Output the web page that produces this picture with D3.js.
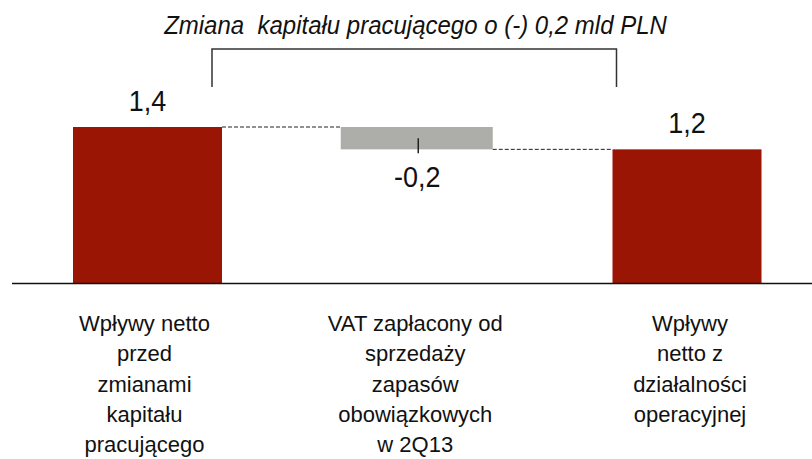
<!DOCTYPE html>
<html>
<head>
<meta charset="utf-8">
<script src="https://cdn.jsdelivr.net/npm/d3@7/dist/d3.min.js"></script>
<style>
  html, body { margin: 0; padding: 0; background: #fff; }
  svg { display: block; }
  text { font-family: "Liberation Sans", Arial, sans-serif; fill: #111; }
</style>
</head>
<body>
<svg id="chart" width="812" height="459"></svg>
<script>
// Waterfall: net inflows before working-capital change -> VAT effect -> operating net inflows
const categories = ["start", "vat", "end"];
const categoryLabels = [
  ["Wpływy netto", "przed", "zmianami", "kapitału", "pracującego"],
  ["VAT zapłacony od", "sprzedaży", "zapasów", "obowiązkowych", "w 2Q13"],
  ["Wpływy", "netto z", "działalności", "operacyjnej"]
];
const barStart = [0, 1.4, 0];      // lower/start level of each bar
const barEnd = [1.4, 1.2, 1.2];    // upper/end level of each bar
const valueLabels = ["1,4", "-0,2", "1,2"];
const barKinds = ["total", "delta", "total"];
const titleText = "Zmiana  kapitału pracującego o (-) 0,2 mld PLN";

const svg = d3.select("#chart");
const colors = { total: "#9b1505", delta: "#adada9" };
const labelNudge = [-3, -2, 3];    // small horizontal offsets of the category captions

const x = d3.scalePoint().domain(categories).range([147.5, 687]);
const barW = 149;
const y = d3.scaleLinear().domain([0, 1.4]).range([283.5, 127]);

// bars
const bars = categories.map((c, i) => ({
  c, i,
  lo: Math.min(barStart[i], barEnd[i]),
  hi: Math.max(barStart[i], barEnd[i]),
  kind: barKinds[i]
}));

svg.append("g").selectAll("rect").data(bars).join("rect")
  .attr("x", d => x(d.c) - barW / 2 + (d.kind === "delta" ? -2 : 0))
  .attr("width", d => barW + (d.kind === "delta" ? 3 : 0))
  .attr("y", d => y(d.hi))
  .attr("height", d => y(d.lo) - y(d.hi))
  .attr("fill", d => colors[d.kind]);

// dashed connectors between consecutive bars at the running level
const connectors = d3.range(categories.length - 1).map(i => ({
  x1: x(categories[i]) + barW / 2 + (barKinds[i] === "delta" ? 1 : 0),
  x2: x(categories[i + 1]) - barW / 2 + (barKinds[i + 1] === "delta" ? -2 : 0),
  v: barEnd[i]
}));
svg.append("g").selectAll("line").data(connectors).join("line")
  .attr("x1", d => d.x1).attr("x2", d => d.x2)
  .attr("y1", d => y(d.v)).attr("y2", d => y(d.v))
  .attr("stroke", "#222").attr("stroke-width", 1)
  .attr("stroke-dasharray", "4,2");

// small marker at the centre of the change bar
bars.filter(d => d.kind === "delta").forEach(d => {
  const mid = (d.lo + d.hi) / 2;
  svg.append("line")
    .attr("x1", x(d.c) + 1).attr("x2", x(d.c) + 1)
    .attr("y1", y(mid)).attr("y2", y(d.lo) + 4)
    .attr("stroke", "#222").attr("stroke-width", 1.5);
});

// baseline
svg.append("line")
  .attr("x1", 12).attr("x2", 812)
  .attr("y1", y(0)).attr("y2", y(0))
  .attr("stroke", "#111").attr("stroke-width", 1.6);

// value labels (slightly tall lettering)
svg.append("g").selectAll("text").data(bars).join("text")
  .attr("transform", d => `translate(${x(d.c)},${d.kind === "delta" ? y(d.lo) + 38 : y(d.hi) - 16}) scale(1,1.12)`)
  .attr("text-anchor", "middle")
  .style("font-size", "27px")
  .text(d => valueLabels[d.i]);

// category labels
const catG = svg.append("g").selectAll("text").data(categories).join("text")
  .attr("x", (c, i) => x(c) + labelNudge[i])
  .attr("y", 331)
  .attr("text-anchor", "middle")
  .style("font-size", "22px");
catG.each(function (c, i) {
  d3.select(this).selectAll("tspan").data(categoryLabels[i]).join("tspan")
    .attr("x", x(c) + labelNudge[i])
    .attr("dy", (d, k) => k === 0 ? 0 : 30.3)
    .text(d => d);
});

// bracket spanning the start and end bars, with the title above
const bx1 = x(categories[0]) + barW / 2 - 10;
const bx2 = x(categories[2]) - barW / 2 + 4;
svg.append("path")
  .attr("d", `M${bx1},87V49H${bx2}V87`)
  .attr("fill", "none").attr("stroke", "#333").attr("stroke-width", 1.5);

svg.append("text")
  .attr("transform", "translate(415.5,34) scale(1,1.1)")
  .attr("text-anchor", "middle")
  .style("font-size", "24px").style("font-style", "italic")
  .style("white-space", "pre")
  .attr("xml:space", "preserve")
  .text(titleText);
</script>
</body>
</html>
